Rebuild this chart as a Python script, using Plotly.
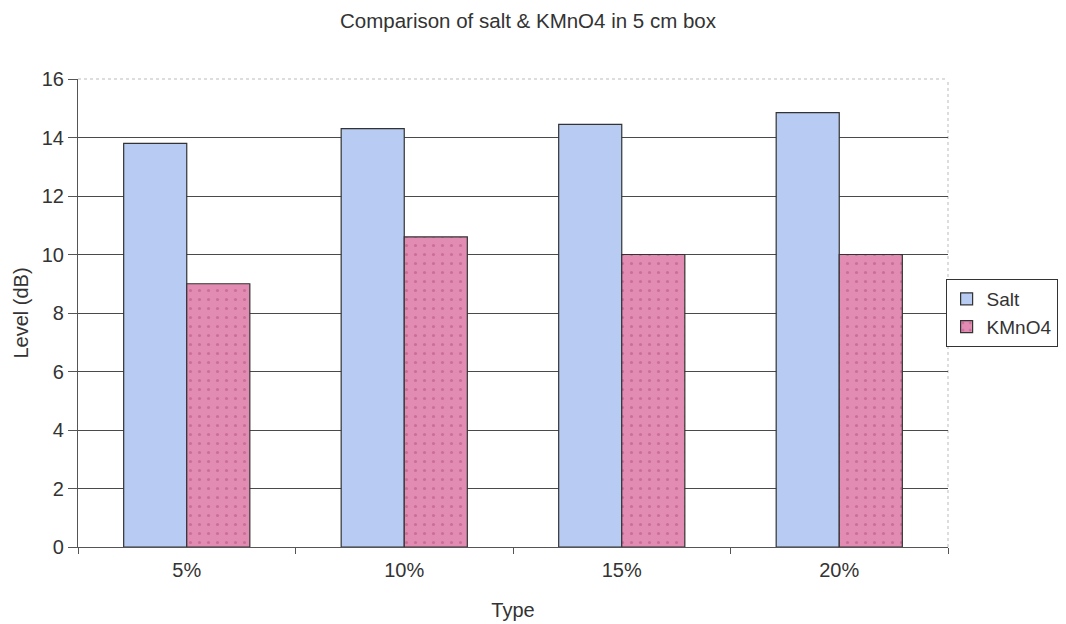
import plotly.graph_objects as go

categories = ["5%", "10%", "15%", "20%"]
salt = [13.8, 14.3, 14.45, 14.85]
kmno4 = [9.0, 10.6, 10.0, 10.0]

fig = go.Figure()
fig.add_trace(go.Bar(
    x=categories, y=salt, name="Salt",
    marker=dict(color="#b7cbf3", line=dict(color="#333333", width=1.2)),
))
fig.add_trace(go.Bar(
    x=categories, y=kmno4, name="KMnO4",
    marker=dict(color="#e28cb4", line=dict(color="#333333", width=1.2),
                pattern=dict(shape=".", fgcolor="#b4507c", bgcolor="#e28cb4", size=9, solidity=0.1)),
))

fig.update_layout(
    width=1058, height=616,
    margin=dict(l=70, r=118, t=71, b=77, autoexpand=False),
    paper_bgcolor="white", plot_bgcolor="white",
    font=dict(family="Liberation Sans, Arial", size=20, color="#333333"),
    title=dict(text="Comparison of salt & KMnO4 in 5 cm box", x=0.4915, xanchor="center",
               xref="container", y=0.979, yanchor="middle", font=dict(size=20.5, color="#333333")),
    barmode="group", bargap=0.42, bargroupgap=0,
    showlegend=True,
    legend=dict(x=1.126, y=0.5, xanchor="right", yanchor="middle",
                bordercolor="#333333", borderwidth=1, bgcolor="white",
                font=dict(size=19), itemwidth=30, tracegroupgap=0),
    xaxis=dict(title=dict(text="Type", font=dict(size=20), standoff=22),
               automargin=False,
               showline=True, linecolor="#555555", linewidth=1.2,
               ticks="outside", tickson="boundaries", ticklen=6, tickcolor="#555555",
               ticklabelstandoff=5,
               showgrid=False, tickfont=dict(size=20)),
    yaxis=dict(title=dict(text="Level (dB)", font=dict(size=20), standoff=7),
               automargin=False,
               range=[0, 16], dtick=2, showline=True, linecolor="#555555", linewidth=1.2,
               ticks="outside", ticklen=9, tickcolor="#555555",
               showgrid=True, gridcolor="#4a4a4a", gridwidth=1, zeroline=False,
               tickfont=dict(size=20)),
)
# light dotted frame on top and right of plot area
fig.add_shape(type="line", xref="paper", yref="paper", x0=0, x1=1, y0=1, y1=1,
              line=dict(color="#bbbbbb", width=1, dash="dot"), layer="below")
fig.add_shape(type="line", xref="paper", yref="paper", x0=1, x1=1, y0=0, y1=1,
              line=dict(color="#bbbbbb", width=1, dash="dot"), layer="below")

fig.write_html("out.html")
